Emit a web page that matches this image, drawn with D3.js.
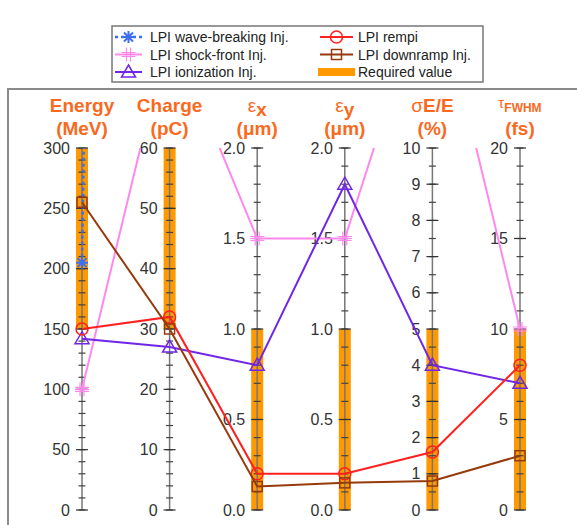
<!DOCTYPE html>
<html>
<head>
<meta charset="utf-8">
<script src="https://cdn.jsdelivr.net/npm/d3@7"></script>
<style>
  body { margin: 0; background: #fff; }
  svg { display: block; font-family: Arial, "Liberation Sans", sans-serif; }
</style>
</head>
<body>
<svg id="drawing_region"></svg>
<script>
// axes (one per parameter)
const dims      = ["energy", "charge", "ex", "ey", "dE", "tau"];
const axisMax   = [300, 60, 2.0, 2.0, 10, 20];
const majorStep = [50, 10, 0.5, 0.5, 1, 5];
const minorStep = [10, 2, 0.1, 0.1, 0.5, 1];
const tickFmt   = ["d", "d", ".1f", ".1f", "d", "d"];

// required value ranges
const requiredLow  = [150, 30, 0, 0, 0, 0];
const requiredHigh = [300, 60, 1.0, 1.0, 5, 10];

// series values
const waveBreaking = [205, 1000, null, null, null, null];
const shockFront   = [100, 80, 1.5, 1.5, 15, 10];
const ionization   = [142, 27, 0.8, 1.8, 4.0, 7.0];
const rempi        = [150, 32, 0.2, 0.2, 1.6, 8.0];
const downramp     = [255, 30, 0.13, 0.15, 0.8, 3.0];

const series = [
    {name: "LPI wave-breaking Inj.", values: waveBreaking, color: "#3b6ff0", symbol: "asterisk", dash: "3,3"},
    {name: "LPI shock-front Inj.",   values: shockFront,   color: "#ff88ee", symbol: "dplus",    dash: null},
    {name: "LPI ionization Inj.",    values: ionization,   color: "#7026e6", symbol: "triangle", dash: null},
    {name: "LPI rempi",              values: rempi,        color: "#ff2020", symbol: "circle",   dash: null},
    {name: "LPI downramp Inj.",      values: downramp,     color: "#963a0c", symbol: "square",   dash: null},
];

const W = 577, H = 525;
const yTop = 148, yBottom = 510;
const orange = "#ff9900";
const headColor = "#fa6a1e";

const svg = d3.select("#drawing_region")
    .attr("width", W)
    .attr("height", H);

// frame
svg.append("rect")
    .attr("x", 8).attr("y", 89)
    .attr("width", 600).attr("height", 500)
    .attr("fill", "none")
    .attr("stroke", "#8a8a8a")
    .attr("stroke-width", 2);

const xscale = d3.scalePoint()
    .domain(dims)
    .range([82, 520]);

const yscales = dims.map((d, i) => d3.scaleLinear()
    .domain([0, axisMax[i]])
    .range([yBottom, yTop]));

svg.append("clipPath").attr("id", "clip")
    .append("rect")
    .attr("x", 0).attr("y", yTop)
    .attr("width", W).attr("height", H - yTop);

// required value bars
svg.append("g").selectAll("rect")
    .data(dims)
    .join("rect")
    .attr("x", d => xscale(d) - 6)
    .attr("width", 12)
    .attr("y", (d, i) => yscales[i](requiredHigh[i]))
    .attr("height", (d, i) => yscales[i](requiredLow[i]) - yscales[i](requiredHigh[i]))
    .attr("fill", orange);

// axes
dims.forEach((d, i) => {
    const x = xscale(d);
    const y = yscales[i];
    const g = svg.append("g");

    g.append("line")
        .attr("x1", x).attr("x2", x)
        .attr("y1", yTop).attr("y2", yBottom)
        .attr("stroke", "#777")
        .attr("stroke-width", 1.5);

    const minors = d3.range(0, axisMax[i] + 1e-9, minorStep[i]);
    g.selectAll(".minor")
        .data(minors)
        .join("line")
        .attr("x1", x - 3.5).attr("x2", x + 3.5)
        .attr("y1", v => y(v)).attr("y2", v => y(v))
        .attr("stroke", "#444")
        .attr("stroke-width", 1.2);

    const majors = d3.range(0, axisMax[i] + 1e-9, majorStep[i]);
    g.selectAll(".major")
        .data(majors)
        .join("line")
        .attr("x1", x - 6).attr("x2", x + 6)
        .attr("y1", v => y(v)).attr("y2", v => y(v))
        .attr("stroke", "#333")
        .attr("stroke-width", 1.2);

    const axis = d3.axisLeft(y)
        .tickValues(majors)
        .tickFormat(d3.format(tickFmt[i]))
        .tickSize(0)
        .tickPadding(12);
    const ag = svg.append("g")
        .attr("transform", `translate(${x},0)`)
        .call(axis);
    ag.select(".domain").remove();
    ag.selectAll("text")
        .attr("font-size", 16)
        .attr("font-family", "Arial, 'Liberation Sans', sans-serif")
        .attr("fill", "#333");
});

// headers
const head = svg.append("g")
    .attr("font-weight", "bold")
    .attr("font-size", 19)
    .attr("fill", headColor)
    .attr("text-anchor", "middle");

function header(d, build, line2) {
    const x = xscale(d);
    const t1 = head.append("text").attr("x", x).attr("y", 112);
    build(t1);
    head.append("text").attr("x", x).attr("y", 135).text(line2);
}
header("energy", t => t.text("Energy"), "(MeV)");
header("charge", t => t.text("Charge"), "(pC)");
header("ex", t => {
    t.append("tspan").attr("font-weight", "normal").text("ε");
    t.append("tspan").attr("dy", 4).text("x");
}, "(μm)");
header("ey", t => {
    t.append("tspan").attr("font-weight", "normal").text("ε");
    t.append("tspan").attr("dy", 4).text("y");
}, "(μm)");
header("dE", t => {
    t.append("tspan").attr("font-weight", "normal").text("σ");
    t.append("tspan").text("E/E");
}, "(%)");
header("tau", t => {
    t.attr("y", 108);
    t.append("tspan").attr("font-weight", "normal").attr("font-size", 15).text("τ");
    t.append("tspan").attr("dy", 4).attr("font-size", 12).text("FWHM");
}, "(fs)");

// marker drawing
function marker(g, symbol, color, x, y) {
    const s = g.append("g").attr("transform", `translate(${x},${y})`)
        .attr("fill", "none").attr("stroke", color).attr("stroke-width", 1.5);
    if (symbol === "circle") {
        s.append("circle").attr("r", 6);
    } else if (symbol === "square") {
        s.append("rect").attr("x", -5).attr("y", -5).attr("width", 10).attr("height", 10);
    } else if (symbol === "triangle") {
        s.append("path").attr("d", "M0,-7L7,5L-7,5Z");
    } else if (symbol === "asterisk") {
        s.append("path").attr("d", "M-6,0H6M0,-6V6M-4.5,-4.5L4.5,4.5M-4.5,4.5L4.5,-4.5")
            .attr("stroke-width", 2);
    } else if (symbol === "dplus") {
        s.append("path").attr("d", "M-7,0H7M-2,-7V7M2,-7V7M-7,-2H7M-7,2H7")
            .attr("stroke-width", 1.2);
    }
}

// series lines
const plot = svg.append("g").attr("clip-path", "url(#clip)");
series.forEach(s => {
    const pts = dims.map((d, i) => ({x: xscale(d), v: s.values[i], y: s.values[i] == null ? null : yscales[i](s.values[i])}));
    const line = d3.line()
        .defined(p => p.v != null)
        .x(p => p.x)
        .y(p => p.y);
    plot.append("path")
        .attr("d", line(pts))
        .attr("fill", "none")
        .attr("stroke", s.color)
        .attr("stroke-width", s.dash ? 2.5 : 2)
        .attr("stroke-dasharray", s.dash);
    pts.filter(p => p.v != null).forEach(p => marker(plot, s.symbol, s.color, p.x, p.y));
});

// legend
const legend = svg.append("g");
legend.append("rect")
    .attr("x", 112).attr("y", 26)
    .attr("width", 371).attr("height", 56)
    .attr("fill", "#fff")
    .attr("stroke", "#777")
    .attr("stroke-width", 1.5);

const legendItems = series.map(s => ({name: s.name, color: s.color, symbol: s.symbol, dash: s.dash}));
legendItems.push({name: "Required value", bar: true});
const legendPos = [[0, 0], [0, 1], [0, 2], [1, 0], [1, 1], [1, 2]];
legendItems.forEach((it, k) => {
    const col = legendPos[k][0], row = legendPos[k][1];
    const y = 37 + row * 17.5;
    const x0 = col === 0 ? 115 : 320;
    const x1 = col === 0 ? 142 : 353;
    const tx = col === 0 ? 150 : 358;
    if (it.bar) {
        legend.append("rect")
            .attr("x", x0 - 2).attr("y", y - 4)
            .attr("width", x1 - x0 + 4).attr("height", 8)
            .attr("fill", orange);
    } else {
        legend.append("line")
            .attr("x1", x0).attr("x2", x1)
            .attr("y1", y).attr("y2", y)
            .attr("stroke", it.color)
            .attr("stroke-width", it.dash ? 2.5 : 2)
            .attr("stroke-dasharray", it.dash);
        marker(legend, it.symbol, it.color, (x0 + x1) / 2, y);
    }
    legend.append("text")
        .attr("x", tx).attr("y", y + 5)
        .attr("font-size", 14)
        .attr("fill", "#222")
        .text(it.name);
});
</script>
</body>
</html>
